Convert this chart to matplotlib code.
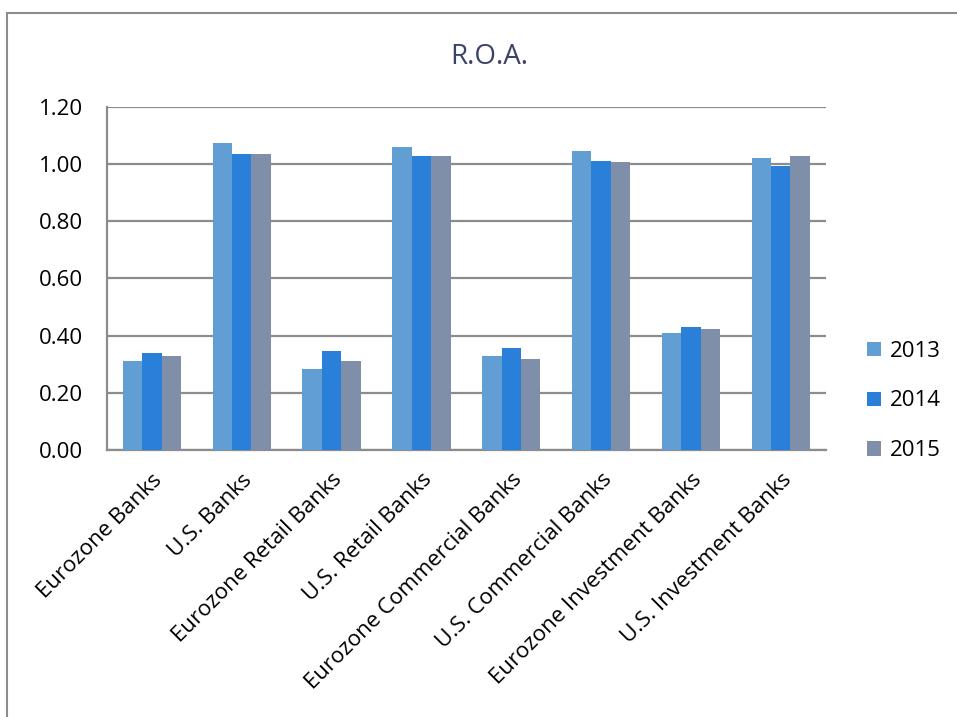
import matplotlib.pyplot as plt
import numpy as np
from matplotlib.patches import Rectangle

categories = ['Eurozone Banks', 'U.S. Banks', 'Eurozone Retail Banks', 'U.S. Retail Banks',
              'Eurozone Commercial Banks', 'U.S. Commercial Banks',
              'Eurozone Investment Banks', 'U.S. Investment Banks']
years = ['2013', '2014', '2015']
roa_2013 = [0.31, 1.075, 0.285, 1.06, 0.33, 1.047, 0.41, 1.02]
roa_2014 = [0.34, 1.035, 0.347, 1.027, 0.356, 1.012, 0.432, 0.995]
roa_2015 = [0.33, 1.035, 0.312, 1.027, 0.32, 1.008, 0.423, 1.03]
colors = ['#619ED4', '#2A7FD8', '#7F8FA9']

plt.rcParams['font.family'] = ['Open Sans', 'DejaVu Sans']

fig = plt.figure(figsize=(9.57, 7.17), dpi=100)
ax = fig.add_axes([0.1118, 0.3724, 0.751, 0.4784])

x = np.arange(len(categories))
w = 0.216
for i, (vals, c) in enumerate(zip([roa_2013, roa_2014, roa_2015], colors)):
    ax.bar(x + (i - 1) * w, vals, w, color=c, label=years[i], zorder=3)

ax.set_xlim(-0.5, len(categories) - 0.5)
ax.set_ylim(0, 1.2)
ax.set_yticks(np.arange(0, 1.21, 0.2))
ax.set_yticklabels(['%.2f' % v for v in np.arange(0, 1.21, 0.2)])
ax.yaxis.grid(True, color='#8C8C8C', linewidth=1.6, zorder=0)
ax.set_xticks(x)
ax.set_xticklabels(categories, rotation=45, ha='right', rotation_mode='anchor')
ax.tick_params(axis='both', length=0, labelsize=16, colors='#000000')
ax.tick_params(axis='x', pad=14)
ax.tick_params(axis='y', pad=17)
for s in ['top', 'right']:
    ax.spines[s].set_visible(False)
for s in ['left', 'bottom']:
    ax.spines[s].set_color('#8C8C8C')
    ax.spines[s].set_linewidth(1.6)

fig.text(0.511, 0.92, 'R.O.A.', fontsize=20, color='#3A4268', ha='center', va='center')

ax.legend(loc='center left', bbox_to_anchor=(1.03, 0.143), frameon=False,
          fontsize=16, handlelength=0.6, handleheight=0.6, labelspacing=1.3,
          handletextpad=0.4)

fig.patches.append(Rectangle((0.007, -0.1), 1.2, 1.082, transform=fig.transFigure,
                             fill=False, edgecolor='#8C8C8C', linewidth=1.5))

fig.savefig('out.png', dpi=100)
